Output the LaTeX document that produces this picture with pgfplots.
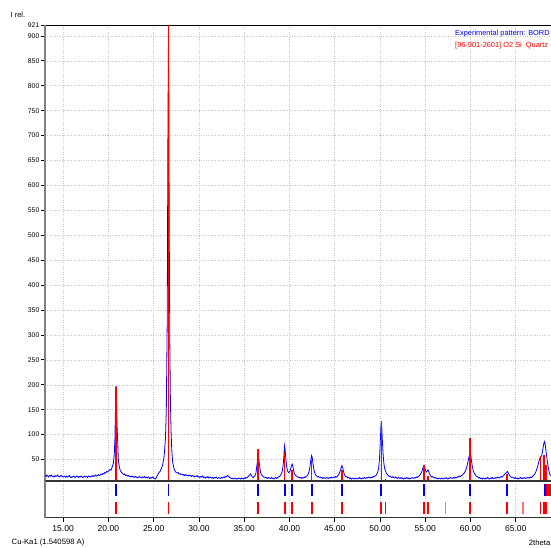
\documentclass[border=0pt]{standalone}
\usepackage{fontspec}
\setmainfont{Liberation Sans}
\usepackage{pgfplots}
\usepackage{pgfplotstable}
\pgfplotsset{compat=1.18}

% experimental pattern (2theta, counts)
\pgfplotstableread{
x y
13.0 18
13.1 16
13.2 19
13.3 17
13.4 15
13.5 18
13.6 17
13.7 19
13.8 16
13.9 17
14.0 15
14.1 18
14.2 16
14.3 17
14.4 19
14.5 16
14.6 15
14.7 17
14.8 18
14.9 16
15.0 15
15.1 17
15.2 16
15.3 14
15.4 17
15.5 15
15.6 16
15.7 18
15.8 15
15.9 14
16.0 16
16.1 15
16.2 17
16.3 14
16.4 15
16.5 17
16.6 16
16.7 14
16.8 16
16.9 15
17.0 17
17.1 15
17.2 14
17.3 16
17.4 17
17.5 15
17.6 16
17.7 14
17.8 17
17.9 16
18.0 15
18.1 17
18.2 16
18.3 18
18.4 16
18.5 17
18.6 19
18.7 17
18.8 18
18.9 20
19.0 18
19.1 19
19.2 21
19.3 20
19.4 22
19.5 21
19.6 24
19.7 23
19.8 26
19.9 25
20.0 27
20.1 28
20.2 30
20.3 29
20.4 34
20.55 42
20.65 60
20.72 90
20.78 150
20.83 190
20.86 198
20.9 170
20.95 120
21.0 100
21.05 75
21.1 50
21.2 36
21.3 29
21.45 24
21.6 22
21.7 20
21.8 21
21.9 18
22.0 19
22.1 17
22.2 18
22.3 16
22.4 17
22.5 15
22.6 17
22.7 15
22.8 16
22.9 14
23.0 16
23.1 15
23.2 13
23.3 15
23.4 16
23.5 14
23.6 15
23.7 13
23.8 15
23.9 14
24.0 16
24.1 14
24.2 15
24.3 13
24.4 15
24.5 14
24.6 12
24.7 14
24.8 13
24.9 15
25.0 13
25.1 12
25.2 11
25.3 14
25.4 18
25.5 21
25.6 24
25.7 26
25.8 30
25.9 34
26.0 40
26.15 55
26.3 90
26.4 150
26.5 330
26.58 720
26.63 875
26.68 785
26.72 520
26.78 300
26.85 170
26.92 110
27.0 70
27.1 45
27.25 32
27.4 26
27.5 24
27.6 23
27.7 24
27.8 21
27.9 22
28.0 20
28.1 21
28.2 19
28.3 20
28.4 18
28.5 20
28.6 18
28.7 19
28.8 17
28.9 19
29.0 17
29.1 18
29.2 16
29.3 18
29.4 17
29.5 15
29.6 17
29.7 16
29.8 18
29.9 15
30.0 16
30.1 14
30.2 16
30.3 15
30.4 17
30.5 14
30.6 15
30.7 13
30.8 15
30.9 14
31.0 16
31.1 13
31.2 14
31.3 15
31.4 13
31.5 14
31.6 12
31.7 14
31.8 13
31.9 15
32.0 13
32.1 12
32.2 14
32.3 13
32.4 12
32.5 14
32.6 13
32.7 15
32.8 14
32.9 16
33.0 15
33.1 17
33.2 18
33.3 16
33.4 14
33.5 13
33.6 12
33.7 13
33.8 11
33.9 12
34.0 13
34.1 11
34.2 12
34.3 11
34.4 13
34.5 12
34.6 11
34.7 13
34.8 12
34.9 11
35.0 13
35.1 12
35.2 14
35.3 13
35.4 15
35.5 17
35.6 19
35.7 21
35.8 18
35.9 15
36.0 14
36.1 16
36.2 18
36.3 23
36.45 45
36.55 60
36.65 45
36.8 25
36.9 20
37.0 18
37.1 16
37.2 14
37.3 15
37.4 13
37.5 14
37.6 12
37.7 14
37.8 13
37.9 12
38.0 14
38.1 12
38.2 13
38.3 11
38.4 13
38.5 14
38.6 12
38.7 14
38.8 15
38.9 16
39.0 18
39.1 21
39.2 26
39.3 38
39.38 55
39.45 78
39.52 70
39.6 52
39.7 35
39.8 27
39.9 24
40.0 25
40.1 29
40.2 36
40.3 41
40.38 36
40.46 28
40.55 22
40.65 19
40.75 17
40.85 16
40.95 14
41.05 15
41.15 13
41.25 14
41.35 12
41.45 14
41.55 13
41.65 15
41.75 14
41.85 16
41.95 17
42.05 20
42.15 25
42.25 34
42.35 48
42.45 58
42.52 54
42.6 42
42.7 30
42.8 23
42.9 19
43.0 17
43.1 15
43.2 16
43.3 14
43.4 15
43.5 13
43.6 14
43.7 12
43.8 14
43.9 13
44.0 12
44.1 14
44.2 13
44.3 12
44.4 14
44.5 13
44.6 15
44.7 13
44.8 14
44.9 15
45.0 14
45.1 16
45.2 15
45.3 17
45.4 19
45.5 22
45.6 27
45.7 33
45.8 38
45.88 34
45.96 27
46.05 21
46.15 17
46.25 15
46.35 16
46.45 13
46.55 14
46.65 12
46.75 13
46.85 11
46.95 13
47.05 12
47.15 11
47.25 13
47.35 12
47.45 11
47.55 13
47.65 12
47.75 14
47.85 12
47.95 11
48.05 13
48.15 12
48.25 14
48.35 13
48.45 12
48.55 14
48.65 13
48.75 15
48.85 14
48.95 13
49.05 15
49.15 14
49.25 16
49.35 15
49.45 17
49.55 18
49.65 21
49.75 25
49.85 33
49.95 52
50.03 85
50.1 115
50.15 124
50.2 112
50.27 85
50.35 60
50.43 42
50.52 32
50.62 27
50.72 22
50.82 20
50.92 18
51.02 16
51.12 17
51.22 15
51.32 14
51.42 16
51.52 14
51.62 13
51.72 15
51.82 13
51.92 12
52.02 14
52.12 13
52.22 12
52.32 14
52.42 12
52.52 13
52.62 11
52.72 13
52.82 12
52.92 14
53.02 12
53.12 13
53.22 11
53.32 13
53.42 12
53.52 14
53.62 13
53.72 12
53.82 14
53.92 13
54.02 15
54.12 14
54.22 16
54.32 17
54.42 19
54.52 22
54.62 26
54.72 32
54.8 36
54.87 38
54.95 33
55.05 27
55.15 25
55.25 28
55.32 29
55.4 25
55.5 20
55.6 17
55.7 15
55.8 16
55.9 14
56.0 13
56.1 14
56.2 12
56.3 13
56.4 11
56.5 13
56.6 12
56.7 11
56.8 13
56.9 12
57.0 11
57.1 13
57.2 12
57.3 14
57.4 12
57.5 11
57.6 13
57.7 12
57.8 14
57.9 13
58.0 12
58.1 14
58.2 13
58.3 15
58.4 13
58.5 14
58.6 16
58.7 15
58.8 17
58.9 16
59.0 18
59.1 19
59.2 21
59.3 23
59.4 26
59.5 30
59.6 36
59.7 44
59.8 53
59.9 60
59.97 63
60.05 56
60.12 46
60.2 36
60.3 28
60.4 23
60.5 20
60.6 17
60.7 16
60.8 15
60.9 13
61.0 14
61.1 12
61.2 13
61.3 11
61.4 13
61.5 12
61.6 11
61.7 13
61.8 12
61.9 14
62.0 12
62.1 11
62.2 13
62.3 12
62.4 14
62.5 12
62.6 13
62.7 12
62.8 14
62.9 13
63.0 15
63.1 14
63.2 13
63.3 15
63.4 16
63.5 15
63.6 17
63.7 19
63.8 21
63.9 23
64.0 25
64.08 26
64.16 23
64.25 20
64.35 17
64.45 15
64.55 14
64.65 15
64.75 13
64.85 12
64.95 14
65.05 12
65.15 13
65.25 11
65.35 13
65.45 12
65.55 14
65.65 12
65.75 13
65.85 12
65.95 14
66.05 13
66.15 12
66.25 14
66.35 13
66.45 14
66.55 13
66.65 15
66.75 14
66.85 16
66.95 18
67.05 20
67.15 23
67.25 27
67.35 32
67.45 39
67.55 46
67.65 52
67.75 56
67.85 57
67.95 66
68.05 78
68.12 84
68.18 86
68.25 80
68.32 70
68.4 58
68.5 45
68.6 33
68.7 24
68.8 19
68.9 17
69.0 15
}\expdata

% reference pattern 96-901-2601 (quartz), scaled intensities
\pgfplotstableread{
x y
20.86 195
26.64 921
36.54 72
39.47 66
40.29 30
42.45 50
45.79 30
50.14 128
50.62 12
54.87 40
55.32 18
57.23 10
59.96 94
64.03 22
65.78 10
67.74 58
68.14 60
68.31 40
}\quartz

\pgfplotsset{
  xrdbase/.style={
    scale only axis,
    anchor=south west,
    width=507pt,
    xmin=13, xmax=69,
    xtick={15,20,...,65},
    tick align=outside,
    major tick length=4pt,
    separate axis lines,
    every outer y axis line/.append style={gray, line width=1.6pt},
    grid style={dotted, gray!45, line width=0.6pt},
    /pgf/number format/assume math mode=true,
  }
}

\begin{document}
\begin{tikzpicture}
\begin{axis}[xrdbase,
    at={(45pt,67pt)},
    height=455.5pt,
    ymin=7, ymax=921,
    xticklabels={},
    xtick style={draw=none},
    ytick={50,100,...,900,921},
    ytick pos=left,
    ytick style={black, line width=0.8pt},
    yticklabel style={font=\fontsize{6.8}{7}\selectfont, inner sep=1.5pt},
    grid=major,
    every outer x axis line/.append style={black, line width=1.6pt},
  ]
  \addplot[blue, line width=0.8pt, mark=none] table {\expdata};
  \addplot[red, line width=1.5pt, ycomb, mark=none] table {\quartz};
\end{axis}

\begin{axis}[xrdbase,
    at={(45pt,30.3pt)},
    height=36.7pt,
    ymin=0, ymax=1,
    ytick=\empty,
    xtick pos=bottom,
    xtick style={black, line width=0.8pt},
    xticklabel style={font=\fontsize{8.5}{9}\selectfont,
      /pgf/number format/fixed, /pgf/number format/fixed zerofill,
      /pgf/number format/precision=2},
    xmajorgrids,
    every outer x axis line/.append style={black!80, line width=1.4pt},
  ]
  % observed peak positions
  \addplot[only marks, mark=|, mark size=5.7pt, blue,
    mark options={line width=1.8pt, blue}] coordinates {
    (20.86,0.755) (26.64,0.755) (36.54,0.755) (39.47,0.755) (40.29,0.755)
    (42.45,0.755) (45.79,0.755) (50.14,0.755) (54.87,0.755) (59.96,0.755)
    (64.03,0.755) (68.22,0.755)};
  \addplot[fill=red, draw=none] coordinates {
    (68.32,0.6) (69.5,0.6) (69.5,0.91) (68.32,0.91)} -- cycle;
  % reference line positions
  \addplot[only marks, mark=|, mark size=6pt, red,
    mark options={line width=1.8pt, red}] coordinates {
    (20.86,0.256) (26.64,0.256) (36.54,0.256) (39.47,0.256) (40.29,0.256)
    (42.45,0.256) (45.79,0.256) (50.14,0.256) (50.62,0.256) (54.87,0.256)
    (55.32,0.256) (59.96,0.256) (64.03,0.256) (67.74,0.256) (68.14,0.256)
    (68.31,0.256)};
  \addplot[only marks, mark=|, mark size=6pt, red!55,
    mark options={line width=1.8pt, red!55}] coordinates {
    (57.23,0.256) (65.78,0.256)};
\end{axis}

\node[anchor=west, inner sep=0pt, font=\fontsize{7.4}{8}\selectfont] at (10.5pt,533pt) {I rel.};
\node[anchor=west, inner sep=0pt, font=\fontsize{7.4}{8}\selectfont, text=blue] at (455pt,514pt) {Experimental pattern: BORD};
\node[anchor=west, inner sep=0pt, font=\fontsize{7.4}{8}\selectfont, text=red] at (455pt,502.5pt) {[96-901-2601] O2 Si\ \ Quartz};
\node[anchor=west, inner sep=0pt, font=\fontsize{7.7}{8}\selectfont] at (11.5pt,5pt) {Cu-Ka1 (1.540598 A)};
\node[anchor=east, inner sep=0pt, font=\fontsize{7.7}{8}\selectfont] at (550.5pt,5pt) {2theta};

\pgfresetboundingbox
\useasboundingbox (0pt,0pt) rectangle (551pt,548pt);
\end{tikzpicture}
\end{document}
